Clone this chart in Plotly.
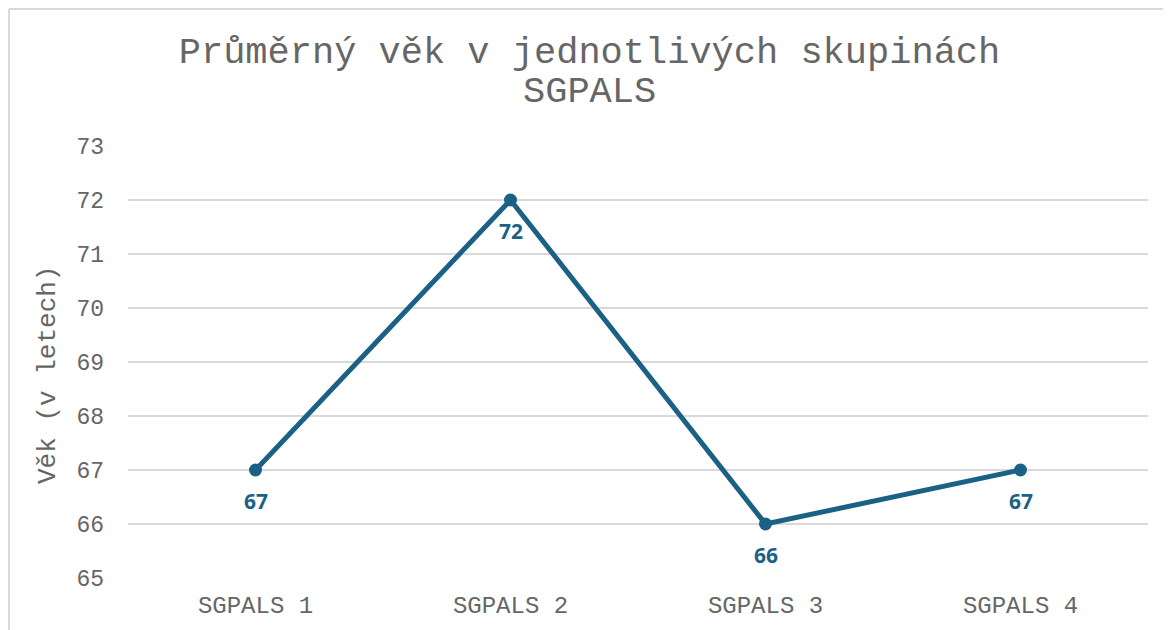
import plotly.graph_objects as go

categories = ["SGPALS 1", "SGPALS 2", "SGPALS 3", "SGPALS 4"]
values = [67, 72, 66, 67]
y_ticks = [65, 66, 67, 68, 69, 70, 71, 72, 73]

line_color = "#1b6185"
grey = "#666666"
mono = "Liberation Mono, Courier New, monospace"

fig = go.Figure()
fig.add_trace(go.Scatter(
    x=categories, y=values, mode="lines+markers",
    line=dict(color=line_color, width=5),
    marker=dict(color=line_color, size=13),
    showlegend=False,
))

annotations = [
    dict(x=c, y=v, xref="x", yref="y", text=str(v), showarrow=False,
         yanchor="middle", xanchor="center", yshift=-31,
         font=dict(family="Open Sans, sans-serif", size=21, color=line_color, weight="bold"))
    for c, v in zip(categories, values)
]
annotations.append(dict(
    x=-0.0784, y=0.47, xref="paper", yref="paper", text="Věk (v letech)",
    textangle=-90, showarrow=False, xanchor="center", yanchor="middle",
    font=dict(family=mono, size=26, color=grey),
))
annotations.append(dict(
    x=0.4525, y=1.125, xref="paper", yref="paper", text="SGPALS",
    showarrow=False, xanchor="center", yanchor="middle",
    font=dict(family=mono, size=37, color=grey),
))

fig.update_layout(
    width=1163, height=622,
    margin=dict(l=120, r=23, t=138, b=52),
    paper_bgcolor="white", plot_bgcolor="white",
    title=dict(
        text="Průměrný věk v jednotlivých skupinách",
        x=0.5, xanchor="center", y=0.9325, yanchor="middle",
        font=dict(family=mono, size=37, color=grey),
    ),
    xaxis=dict(
        range=[-0.5, 3.5], showgrid=False, zeroline=False, showline=False,
        ticks="", tickfont=dict(family=mono, size=24, color=grey),
        ticklabelstandoff=10, automargin=False,
    ),
    yaxis=dict(
        range=[65, 73], tickvals=y_ticks, showgrid=True, gridcolor="#d9d9d9",
        gridwidth=1.5, zeroline=False, showline=False, ticks="",
        tickfont=dict(family=mono, size=23, color=grey),
        ticklabelstandoff=23, automargin=False,
    ),
    annotations=annotations,
    shapes=[
        dict(type="line", xref="paper", yref="paper", x0=-0.1167, x1=1.03, y0=1.3171, y1=1.3171,
             line=dict(color="#d9d9d9", width=2)),
        dict(type="line", xref="paper", yref="paper", x0=-0.1167, x1=-0.1167, y0=1.3171, y1=-0.2,
             line=dict(color="#d9d9d9", width=2)),
    ],
)

fig.write_html("out.html")
